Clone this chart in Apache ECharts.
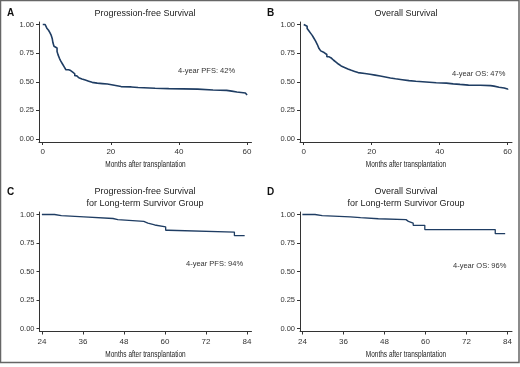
<!DOCTYPE html>
<html>
<head>
<meta charset="utf-8">
<script src="https://cdn.jsdelivr.net/npm/echarts@6/dist/echarts.min.js"></script>
<style>
html,body{margin:0;padding:0;background:#fff;}
#chart{width:520px;height:367px;}
</style>
</head>
<body>
<div id="chart"></div>
<script>
// ---- Data ----
const pfsTimes = [0,0.7,1.2,1.7,2.1,2.5,2.8,3.0,3.3,3.8,4.2,4.5,4.9,5.3,5.8,6.3,6.8,7.6,8.2,8.8,9.4,10.0,10.6,11.5,12.5,13.5,14.5,16.0,17.5,19.0,20.2,23.0,26.0,28.0,33.0,37.0,45.5,50.0,54.0,55.5,57.0,59.5,60.0];
const pfsSurv  = [1.000,0.985,0.968,0.950,0.930,0.905,0.875,0.840,0.810,0.795,0.765,0.735,0.705,0.680,0.655,0.630,0.605,0.598,0.585,0.570,0.552,0.535,0.525,0.515,0.505,0.495,0.488,0.484,0.480,0.474,0.458,0.455,0.450,0.443,0.440,0.436,0.428,0.425,0.418,0.410,0.402,0.395,0.385];

const osTimes = [0,0.5,1.0,1.5,2.0,2.5,3.0,3.5,4.0,4.5,5.0,5.5,6.0,6.8,7.5,8.2,8.8,9.5,10.2,11.0,12.0,13.0,14.0,15.0,16.0,18.0,19.5,21.0,22.5,24.0,25.5,27.0,29.0,31.0,33.0,36.0,39.0,42.0,44.0,46.0,48.5,52.0,55.0,56.0,57.5,59.0,60.0];
const osSurv  = [1.000,0.985,0.965,0.945,0.925,0.905,0.880,0.855,0.825,0.790,0.770,0.755,0.738,0.718,0.705,0.688,0.672,0.655,0.638,0.625,0.612,0.600,0.590,0.580,0.572,0.566,0.558,0.550,0.542,0.533,0.526,0.518,0.510,0.504,0.498,0.492,0.488,0.482,0.477,0.471,0.469,0.466,0.462,0.452,0.445,0.437,0.430];

const ltPfsTimes = [24,27.7,29.7,36.3,44.8,46.2,53.8,55.0,57.0,60.2,61.0,80.3,83.3];
const ltPfsSurv  = [1.000,0.990,0.980,0.965,0.955,0.940,0.925,0.908,0.892,0.862,0.846,0.814,0.814];

const ltOsTimes = [24,27.7,29.8,38.0,41.0,46.2,54.3,55.0,56.4,59.8,80.4,83.3];
const ltOsSurv  = [1.000,0.990,0.980,0.972,0.963,0.955,0.940,0.925,0.905,0.868,0.832,0.832];

const yTicks = [0,0.25,0.5,0.75,1];
const xTicksFull = [0,20,40,60];
const xTicksLT = [24,36,48,60,72,84];

const panelLetters = ['A','B','C','D'];
const panelTitles = ['Progression-free Survival','Overall Survival','Progression-free Survival\nfor Long-term Survivor Group','Overall Survival\nfor Long-term Survivor Group'];
const annotations = ['4-year PFS: 42%','4-year OS: 47%','4-year PFS: 94%','4-year OS: 96%'];
const xTitle = 'Months after transplantation';

// ---- Build chart ----
const pairs = (t, s) => t.map((v, i) => [v, s[i]]);
const FONT = 'Liberation Sans, Arial, sans-serif';
const LINE = '#1f3d63';

const grids = [
  {left:39, top:22, width:212.5, height:120},
  {left:300, top:22, width:212, height:120},
  {left:39.5, top:212, width:212, height:119.5},
  {left:300, top:212, width:212, height:119.5}
];
const xRanges = [[-1.1,61.3],[-1.1,61.3],[23.3,85.3],[23.3,85.3]];
const xTickSets = [xTicksFull, xTicksFull, xTicksLT, xTicksLT];
const seriesData = [pairs(pfsTimes,pfsSurv), pairs(osTimes,osSurv), pairs(ltPfsTimes,ltPfsSurv), pairs(ltOsTimes,ltOsSurv)];

const axisLineStyle = {color:'#333', width:1};
const xAxes = grids.map((g, i) => ({
  type:'value', gridIndex:i, min:xRanges[i][0], max:xRanges[i][1],
  axisLine:{show:true, onZero:false, lineStyle:axisLineStyle},
  axisTick:{show:true, length:3, customValues:xTickSets[i], lineStyle:axisLineStyle},
  axisLabel:{customValues:xTickSets[i], margin:6, fontSize:8, color:'#333', fontFamily:FONT},
  splitLine:{show:false}
}));
const yAxes = grids.map((g, i) => ({
  type:'value', gridIndex:i, min:-0.026, max:1.022,
  axisLine:{show:true, onZero:false, lineStyle:axisLineStyle},
  axisTick:{show:true, length:3, customValues:yTicks, lineStyle:axisLineStyle},
  axisLabel:{customValues:yTicks, margin:5, fontSize:7.5, color:'#333', fontFamily:FONT,
             formatter:v => v.toFixed(2)},
  splitLine:{show:false}
}));
const series = seriesData.map((d, i) => ({
  type:'line', xAxisIndex:i, yAxisIndex:i, data:d, step:'end',
  showSymbol:false, silent:true, animation:false,
  lineStyle:{color:LINE, width:i < 2 ? 1.6 : 1.3}
}));

const letterPos = [[7,13],[267,13],[7,192],[267,192]];
const titlePos = [[145,13.5],[406,13.5],[145,192],[406,192]];
const annPos = [[178,71],[452,74],[186,264.3],[453,265.7]];
const xTitlePos = [[145.5,165],[406,165],[145.5,354.3],[406,354.3]];

const graphic = [];
graphic.push({type:'rect', shape:{x:0.5, y:0.5, width:518.5, height:362}, style:{fill:'none', stroke:'#666', lineWidth:1.5}, silent:true});
for (let i = 0; i < 4; i++) {
  graphic.push({type:'text', x:letterPos[i][0], y:letterPos[i][1], style:{text:panelLetters[i], font:'bold 10px ' + FONT, fill:'#111', verticalAlign:'middle', align:'left'}});
  graphic.push({type:'text', x:titlePos[i][0], y:titlePos[i][1] - 5.75, style:{text:panelTitles[i], font:'9px ' + FONT, fill:'#222', align:'center', verticalAlign:'top', lineHeight:11.5}});
  graphic.push({type:'text', x:annPos[i][0], y:annPos[i][1], style:{text:annotations[i], font:'7.5px ' + FONT, fill:'#333', align:'left', verticalAlign:'middle'}});
  // condensed axis title
  graphic.push({type:'text', x:xTitlePos[i][0], y:xTitlePos[i][1], scaleX:0.72, scaleY:1,
    style:{text:xTitle, font:'9px ' + FONT, fill:'#222', align:'center', verticalAlign:'middle'}});
}

const chart = echarts.init(document.getElementById('chart'), null, {renderer:'canvas'});
chart.setOption({
  animation:false,
  backgroundColor:'#fff',
  grid:grids,
  xAxis:xAxes,
  yAxis:yAxes,
  series:series,
  graphic:graphic
});
</script>
</body>
</html>
